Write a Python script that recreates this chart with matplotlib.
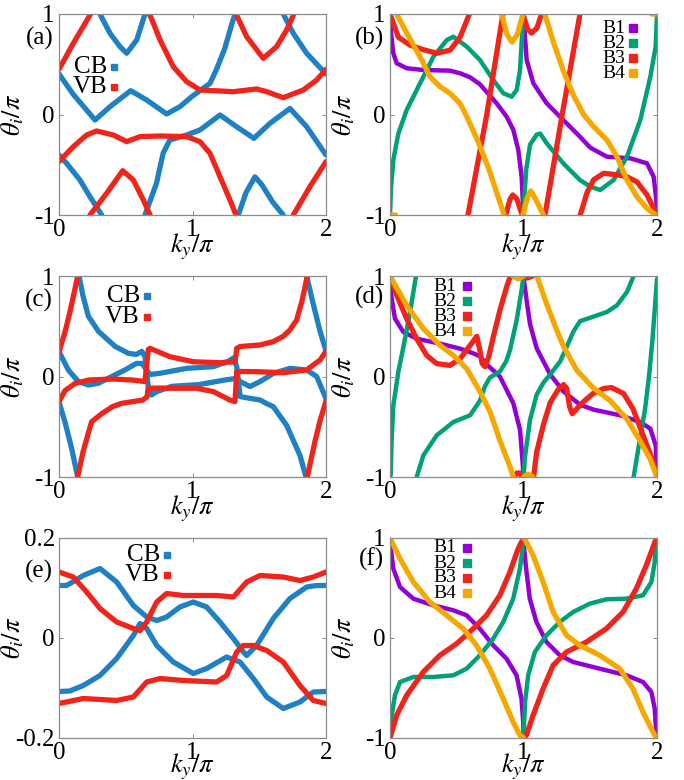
import numpy as np
import matplotlib
matplotlib.use("Agg")
import matplotlib.pyplot as plt

nan = np.nan

# ---- panel (a) ----
a_cb1_k = [0, 0.107, 0.27, 0.382, 0.537, 0.657, 0.806, 0.906, 0.994, 1.131, 1.18, 1.24, 1.29, 1.318, nan,
           1.343, 1.40, 1.468, 1.52, 1.60, 1.68, nan, 1.68, 1.755, 1.855, 2.0]
a_cb1_t = [0.403, 0.2, -0.055, 0.078, 0.237, 0.144, 0.005, 0.078, 0.177, 0.31, 0.45, 0.65, 0.88, 1.0, nan,
           -1.0, -0.78, -0.62, -0.70, -0.87, -1.0, nan, 1.0, 0.808, 0.609, 0.403]
a_cb2_k = [0, 0.057, 0.157, 0.232, 0.32, nan, 0.307, 0.382, 0.457, 0.507, 0.582, 0.644, nan,
           0.644, 0.73, 0.78, 0.83, 0.956, 1.056, 1.206, 1.33, 1.46, 1.58, 1.73, 1.855, 2.0]
a_cb2_t = [-0.403, -0.486, -0.652, -0.818, -1.0, nan, 1.0, 0.808, 0.675, 0.609, 0.741, 1.0, nan,
           -1.0, -0.685, -0.386, -0.254, -0.204, -0.154, -0.005, -0.121, -0.237, -0.088, 0.06, -0.121, -0.403]
a_vb1_k = [0, 0.107, 0.237, nan, 0.232, 0.357, 0.477, 0.557, 0.632, 0.682, nan,
           0.677, 0.70, 0.757, 0.856, 0.956, 1.056, 1.306, 1.48, 1.556, 1.68, 1.83, 1.93, 2.0]
a_vb1_t = [0.449, 0.708, 1.0, nan, -1.0, -0.784, -0.559, -0.652, -0.851, -1.0, nan,
           1.0, 0.93, 0.741, 0.476, 0.327, 0.244, 0.227, 0.254, 0.227, 0.167, 0.244, 0.343, 0.449]
a_vb2_k = [0, 0.107, 0.207, 0.282, 0.407, 0.507, 0.607, 0.757, 0.956, 1.056, 1.131, 1.206, 1.281, 1.326, nan,
           1.326, 1.406, 1.53, 1.63, 1.705, 1.76, nan, 1.755, 1.88, 2.0]
a_vb2_t = [-0.469, -0.32, -0.204, -0.164, -0.204, -0.27, -0.22, -0.214, -0.22, -0.27, -0.386, -0.619, -0.851, -1.0, nan,
           1.0, 0.774, 0.559, 0.675, 0.841, 1.0, nan, -1.0, -0.718, -0.469]

# ---- panel (b) ----
b_b1_k = [0, 0.008, 0.025, 0.05, 0.125, 0.25, 0.45, 0.525, 0.6, 0.674, 0.74, 0.799, 0.874, 0.924, 0.961, 0.986, 1.0, nan,
          1.0, 1.011, 1.024, 1.074, 1.174, 1.298, 1.423, 1.5, 1.625, 1.8, 1.925, 1.975, 1.995, 2.0]
b_b1_t = [1.0, 0.81, 0.61, 0.51, 0.46, 0.443, 0.436, 0.41, 0.37, 0.3, 0.2, 0.111, -0.022, -0.154, -0.353, -0.619, -1.0, nan,
          1.0, 0.774, 0.542, 0.31, 0.111, -0.055, -0.221, -0.33, -0.42, -0.436, -0.486, -0.62, -0.85, -1.0]
b_b2_k = [0, 0.008, 0.025, 0.0625, 0.125, 0.225, 0.325, 0.425, 0.475, 0.575, 0.674, 0.774, 0.849, 0.911, 0.949, 0.974,
          0.986, 0.998, nan, 1.0, 1.005, 1.02, 1.049, 1.099, 1.125, 1.174, 1.298, 1.423, 1.5, 1.575, 1.675, 1.775,
          1.875, 1.95, 1.99, 2.0]
b_b2_t = [-1.0, -0.72, -0.45, -0.19, 0.045, 0.31, 0.575, 0.741, 0.774, 0.675, 0.542, 0.343, 0.211, 0.177, 0.244, 0.443,
          0.71, 1.0, nan, -1.0, -0.85, -0.55, -0.3, -0.2, -0.19, -0.287, -0.486, -0.652, -0.718, -0.751, -0.652, -0.42,
          -0.055, 0.376, 0.675, 1.0]
b_b3_k = [0, 0.0625, 0.15, 0.25, 0.35, 0.45, 0.525, 0.595, nan, 0.584, 0.725, 0.846, nan,
          0.866, 0.90, 0.92, 0.95, 0.99, nan, 0.996, 1.03, 1.06, 1.1, 1.136, nan, 1.161, 1.29, 1.423, nan,
          1.425, 1.475, 1.525, 1.6, 1.7, 1.775, 1.85, 1.925, 2.0]
b_b3_t = [1.0, 0.77, 0.69, 0.645, 0.61, 0.64, 0.77, 1.0, nan, -1.0, 0.0, 1.0, nan,
          -1.0, -0.84, -0.80, -0.84, -1.0, nan, 1.0, 0.85, 0.81, 0.86, 1.0, nan, -1.0, 0.0, 1.0, nan,
          -1.0, -0.78, -0.65, -0.585, -0.6, -0.62, -0.67, -0.8, -1.0]
b_b4_k = [0, 0.04, nan, 0.05, 0.125, 0.225, 0.3, 0.375, 0.45, 0.525, 0.575, 0.66, 0.74, 0.79, 0.84, 0.855, nan,
          0.836, 0.875, 0.914, 0.955, 0.996, nan, 0.996, 1.03, 1.055, 1.09, 1.15, nan,
          1.16, 1.224, 1.3, 1.375, 1.45, 1.525, 1.625, 1.7, 1.775, 1.85, 1.925, 1.99, nan, 1.96, 2.0]
b_b4_t = [-1.0, -1.0, nan, 1.0, 0.81, 0.575, 0.376, 0.277, 0.21, 0.11, -0.02, -0.27, -0.54, -0.74, -0.94, -1.0, nan,
          1.0, 0.8, 0.72, 0.8, 1.0, nan, -1.0, -0.82, -0.76, -0.84, -1.0, nan,
          1.0, 0.72, 0.43, 0.19, 0.0, -0.12, -0.254, -0.42, -0.652, -0.818, -0.934, -1.0, nan, 1.0, 1.0]

# ---- panel (c) ----
c_cb1_k = [0, 0.07, 0.145, 0.22, 0.294, 0.395, 0.494, 0.58, 0.62, 0.65, 0.68, 0.757, 0.956, 1.156, 1.268, 1.306,
           1.331, 1.343, 1.356, 1.431, 1.506, 1.556, 1.605, 1.705, 1.805, 1.85, nan, 1.855, 1.905, 1.955, 2.0]
c_cb1_t = [0.247, 0.065, -0.05, -0.085, -0.068, 0.0, 0.065, 0.13, 0.13, 0.08, 0.02, 0.032, 0.081, 0.098, 0.151, 0.184,
           0.1, -0.032, -0.2, -0.217, -0.234, -0.27, -0.3, -0.486, -0.785, -1.0, nan, 1.0, 0.718, 0.453, 0.254]
c_cb2_k = [0, 0.045, 0.095, 0.14, nan, 0.15, 0.18, 0.22, 0.295, 0.42, 0.52, 0.58, 0.62, 0.644, 0.657, 0.669, 0.694,
           0.732, 0.844, 1.044, 1.243, 1.331, 1.356, 1.431, 1.506, 1.605, 1.73, 1.855, 1.93, 2.0]
c_cb2_t = [-0.254, -0.453, -0.718, -1.0, nan, 1.0, 0.8, 0.6, 0.45, 0.3, 0.23, 0.22, 0.25, 0.2, 0.03, -0.1, -0.184,
           -0.151, -0.098, -0.081, -0.035, -0.018, -0.05, -0.1, -0.05, 0.03, 0.081, 0.065, 0.0, -0.22]
c_vb1_k = [0, 0.045, 0.082, 0.12, 0.14, nan, 0.14, 0.18, 0.22, 0.245, 0.32, 0.4, 0.47, 0.63, 0.66, 0.667, 0.75,
           0.831, 1.03, 1.156, 1.28, 1.318, 1.325, 1.331, 1.356, 1.48, 1.68, 1.855, 1.955, 2.0]
c_vb1_t = [0.244, 0.443, 0.642, 0.874, 1.0, nan, -1.0, -0.75, -0.56, -0.45, -0.37, -0.3, -0.267, -0.234, -0.2, -0.117,
           -0.115, -0.117, -0.117, -0.15, -0.234, -0.25, -0.1, 0.048, 0.05, 0.048, 0.038, 0.065, 0.164, 0.25]
c_vb2_k = [0, 0.045, 0.12, 0.22, 0.4, 0.55, 0.644, 0.655, 0.669, 0.682, 0.831, 1.006, 1.206, 1.318, 1.325, 1.331,
           1.356, 1.506, 1.605, 1.68, 1.73, 1.78, 1.82, 1.86, nan, 1.86, 1.88, 1.918, 1.955, 2.0]
c_vb2_t = [-0.25, -0.14, -0.07, -0.035, -0.025, -0.035, -0.05, 0.1, 0.27, 0.28, 0.197, 0.147, 0.137, 0.147, 0.21, 0.28,
           0.298, 0.314, 0.347, 0.4, 0.463, 0.562, 0.75, 1.0, nan, -1.0, -0.874, -0.642, -0.443, -0.244]

# ---- panel (d) ----
d_b1_k = [0, 0.0125, 0.0375, 0.1, 0.2, 0.375, 0.525, 0.625, 0.674, 0.725, 0.824, 0.924, 0.974, 0.994, 1.0, nan,
          1.0, 1.005, 1.024, 1.049, 1.099, 1.2, 1.3, 1.423, 1.525, 1.725, 1.875, 1.95, 1.99, 2.0]
d_b1_t = [0.95, 0.775, 0.575, 0.443, 0.376, 0.327, 0.277, 0.23, 0.2, 0.12, -0.002, -0.267, -0.532, -0.864, -1.0, nan,
          1.0, 0.94, 0.75, 0.52, 0.28, 0.02, -0.15, -0.28, -0.33, -0.386, -0.453, -0.519, -0.685, -0.92]
d_b2_k = [0, 0.005, 0.0125, 0.025, 0.0625, 0.1125, 0.15, 0.195, nan, 0.2, 0.25, 0.35, 0.475, 0.6, 0.674, 0.71, 0.749,
          0.824, 0.87, 0.899, 0.949, 0.986, 1.0, nan, 1.0, 1.011, 1.049, 1.099, 1.15, 1.2, 1.275, 1.325, 1.375, 1.423,
          1.5, 1.625, 1.7, 1.775, 1.825, nan, 1.825, 1.875, 1.91, 1.94, 1.965, 1.985, 2.0]
d_b2_t = [-1.0, -0.98, -0.62, -0.287, 0.045, 0.376, 0.642, 1.0, nan, -1.0, -0.785, -0.585, -0.453, -0.386, -0.24, -0.1,
          -0.01, 0.05, 0.15, 0.264, 0.562, 0.86, 1.0, nan, -1.0, -0.8, -0.43, -0.18, -0.06, 0.02, 0.15, 0.3, 0.45, 0.55,
          0.585, 0.642, 0.708, 0.841, 1.0, nan, -1.0, -0.6, -0.33, 0.0, 0.35, 0.7, 0.97]
d_b3_k = [0.0, 0.01, 0.05, 0.125, 0.2, 0.275, 0.35, 0.45, 0.525, 0.6, 0.65, 0.675, 0.69, 0.712, 0.74, 0.774, 0.824,
          0.874, 0.9, 0.93, nan, 0.93, 0.95, 0.97, 0.99, nan, 0.99, 1.03, 1.07, nan, 1.075, 1.099, 1.149, 1.2, 1.26,
          1.3, 1.324, 1.345, 1.365, 1.4, 1.45, 1.52, 1.6, 1.66, 1.75, 1.82, 1.9, 1.97, 2.0]
d_b3_t = [1.0, 0.97, 0.81, 0.575, 0.376, 0.21, 0.128, 0.111, 0.177, 0.31, 0.40, 0.25, 0.13, 0.098, 0.2, 0.396, 0.662,
          0.894, 0.99, 1.0, nan, -1.0, -0.96, -0.96, -1.0, nan, 1.0, 0.98, 1.0, nan, -1.0, -0.75, -0.48, -0.26, -0.13,
          -0.08, -0.12, -0.3, -0.37, -0.32, -0.25, -0.17, -0.12, -0.11, -0.17, -0.32, -0.6, -0.84, -1.0]
d_b4_k = [0, 0.125, 0.25, 0.375, 0.475, 0.575, 0.674, 0.749, 0.824, 0.899, 0.924, nan, 0.92, 0.96, 1.0, nan,
          1.0, 1.035, 1.07, nan, 1.1, 1.174, 1.249, 1.3, 1.4, 1.52, 1.648, 1.773, 1.873, 1.948, 2.0]
d_b4_t = [1.0, 0.708, 0.476, 0.31, 0.21, 0.078, -0.15, -0.35, -0.64, -0.898, -1.0, nan, 1.0, 0.97, 1.0, nan,
          -1.0, -0.97, -1.0, nan, 1.0, 0.72, 0.46, 0.3, 0.06, -0.11, -0.24, -0.42, -0.64, -0.82, -1.0]

# ---- panel (e) ----
e_cb1_k = [0, 0.057, 0.182, 0.307, 0.432, 0.557, 0.657, 0.732, 0.806, 0.906, 1.006, 1.106, 1.206, 1.306, 1.381,
           1.406, 1.48, 1.605, 1.73, 1.855, 1.93, 2.0]
e_cb1_t = [0.105, 0.105, 0.125, 0.139, 0.112, 0.065, 0.042, 0.035, 0.042, 0.062, 0.072, 0.062, 0.032, -0.001, -0.028,
           -0.035, -0.015, 0.039, 0.079, 0.102, 0.105, 0.105]
e_cb2_k = [0, 0.08, 0.182, 0.307, 0.432, 0.557, 0.607, 0.657, 0.732, 0.856, 1.006, 1.106, 1.256, 1.356, 1.456, 1.556,
           1.68, 1.805, 1.905, 2.0]
e_cb2_t = [-0.107, -0.106, -0.095, -0.075, -0.041, 0.005, 0.029, 0.019, -0.015, -0.048, -0.071, -0.061, -0.038,
           -0.048, -0.081, -0.118, -0.141, -0.128, -0.108, -0.107]
e_vb1_k = [0, 0.107, 0.207, 0.307, 0.432, 0.557, 0.607, 0.657, 0.732, 0.806, 0.931, 1.181, 1.306, 1.406, 1.506, 1.68,
           1.805, 1.905, 2.0]
e_vb1_t = [0.132, 0.122, 0.092, 0.059, 0.032, 0.019, 0.015, 0.032, 0.072, 0.089, 0.085, 0.085, 0.082, 0.112, 0.125,
           0.122, 0.115, 0.122, 0.132]
e_vb2_k = [0, 0.182, 0.432, 0.557, 0.657, 0.757, 0.931, 1.181, 1.256, 1.331, 1.381, 1.456, 1.556, 1.68, 1.805, 1.905,
           2.0]
e_vb2_t = [-0.131, -0.121, -0.125, -0.118, -0.088, -0.081, -0.085, -0.088, -0.075, -0.028, -0.015, -0.015, -0.025,
           -0.048, -0.095, -0.125, -0.131]

# ---- panel (f) ----
f_b1_k = [0, 0.025, 0.075, 0.175, 0.324, 0.474, 0.574, 0.673, 0.773, 0.873, 0.948, 0.985, 0.998, 1.0, nan,
          1.0, 1.017, 1.047, 1.097, 1.172, 1.272, 1.372, 1.521, 1.671, 1.771, 1.895, 1.958, 1.983, 1.995]
f_b1_t = [0.96, 0.693, 0.51, 0.393, 0.327, 0.277, 0.227, 0.093, -0.073, -0.207, -0.373, -0.607, -0.84, -0.99, nan,
          0.96, 0.727, 0.393, 0.16, -0.04, -0.173, -0.24, -0.29, -0.34, -0.373, -0.44, -0.54, -0.707, -0.957]
f_b2_k = [0, 0.0125, 0.037, 0.075, 0.175, 0.324, 0.474, 0.574, 0.673, 0.773, 0.848, 0.923, 0.973, 0.993, 1.0, nan,
          1.0, 1.012, 1.035, 1.085, 1.172, 1.272, 1.372, 1.496, 1.621, 1.771, 1.895, 1.958, 1.983, 1.995]
f_b2_t = [-1.0, -0.773, -0.573, -0.44, -0.39, -0.39, -0.373, -0.307, -0.173, -0.007, 0.16, 0.393, 0.693, 0.893, 0.99,
          nan, -0.973, -0.64, -0.373, -0.14, 0.027, 0.16, 0.26, 0.343, 0.387, 0.393, 0.427, 0.56, 0.76, 0.993]
f_b3_k = [0, 0.05, 0.125, 0.249, 0.374, 0.499, 0.623, 0.723, 0.823, 0.898, 0.96, 1.0, nan,
          1.0, 1.022, 1.072, 1.147, 1.222, 1.322, 1.471, 1.621, 1.746, 1.845, 1.92, 1.995]
f_b3_t = [-1.0, -0.773, -0.573, -0.34, -0.173, -0.057, 0.093, 0.227, 0.427, 0.66, 0.893, 1.0, nan,
          -1.0, -0.973, -0.773, -0.507, -0.273, -0.14, -0.04, 0.093, 0.26, 0.493, 0.727, 1.0]
f_b4_k = [0, 0.075, 0.175, 0.299, 0.424, 0.549, 0.648, 0.748, 0.848, 0.923, 0.973, 1.0, nan,
          1.0, 1.01, 1.072, 1.147, 1.222, 1.322, 1.421, 1.571, 1.721, 1.82, 1.895, 1.97, 1.995]
f_b4_t = [1.0, 0.793, 0.56, 0.36, 0.227, 0.093, -0.073, -0.307, -0.607, -0.84, -0.973, -1.0, nan,
          1.0, 0.99, 0.827, 0.56, 0.26, 0.027, -0.073, -0.173, -0.307, -0.507, -0.74, -0.94, -1.0]

band_labels = ["B1", "B2", "B3", "B4"]
cbvb_labels = ["CB", "VB"]

BLUE = "#1f80c4"
RED = "#f0241a"
PURPLE = "#9400d3"
GREEN = "#00a078"
YELLOW = "#f5a800"

plt.rcParams["font.family"] = ["Liberation Serif", "DejaVu Serif"]
plt.rcParams["mathtext.fontset"] = "stix"
plt.rcParams["axes.unicode_minus"] = False


def style_axes(ax, lab, small=False, xlab_y=-0.085):
    ax.set_xlim(0, 2)
    if small:
        ax.set_ylim(-0.2, 0.2)
        ax.set_yticks([-0.2, 0, 0.2])
        ax.set_yticklabels(["-0.2", "0", "0.2"])
    else:
        ax.set_ylim(-1, 1)
        ax.set_yticks([-1, 0, 1])
        ax.set_yticklabels(["-1", "0", "1"])
    ax.set_xticks([0, 1, 2])
    ax.set_xticklabels(["0", "1", "2"])
    for s in ax.spines.values():
        s.set_color("#8c8c8c")
        s.set_linewidth(0.9)
    ax.tick_params(direction="in", length=3, width=0.7, color="#8c8c8c",
                   top=True, right=True, labelsize=18, pad=3)
    ax.set_xlabel(r"$k_y/\pi$", fontsize=19)
    ax.xaxis.set_label_coords(0.5, xlab_y)
    ax.set_ylabel(r"$\theta_i/\pi$", fontsize=19)
    ax.yaxis.set_label_coords(-0.125, 0.5)
    ax.text(-0.022, lab[1], lab[0], transform=ax.transAxes, ha="right", va="center", fontsize=18)


def add_key(ax, labels, colors, xt, xm, ys, fs, ms):
    for name, col, y in zip(labels, colors, ys):
        ax.text(xt, y, name, transform=ax.transAxes, ha="right", va="center", fontsize=fs)
        ax.plot([xm], [y], "s", color=col, ms=ms, transform=ax.transAxes, clip_on=False)


fig = plt.figure(figsize=(6.84, 7.8), dpi=100)
W, H = 267 / 684, 201 / 780
axa = fig.add_axes([59 / 684, 1 - 215 / 780, W, H])
axb = fig.add_axes([390 / 684, 1 - 215 / 780, W, H])
axc = fig.add_axes([59 / 684, 1 - 477 / 780, W, H])
axd = fig.add_axes([390 / 684, 1 - 477 / 780, W, H])
axe = fig.add_axes([59 / 684, 1 - 738 / 780, W, 200 / 780])
axf = fig.add_axes([390 / 684, 1 - 738 / 780, W, 200 / 780])

LW = 3.8
LWD = 3.2
kw = dict(solid_capstyle="round", solid_joinstyle="round")

# (a)
axa.plot(a_cb1_k, a_cb1_t, color=BLUE, lw=LW, **kw)
axa.plot(a_cb2_k, a_cb2_t, color=BLUE, lw=LW, **kw)
axa.plot(a_vb1_k, a_vb1_t, color=RED, lw=LW, **kw)
axa.plot(a_vb2_k, a_vb2_t, color=RED, lw=LW, **kw)
style_axes(axa, ("(a)", 0.88))
add_key(axa, cbvb_labels, [BLUE, RED], 0.18, 0.205, [0.736, 0.637], 18, 5)

# (c)
axc.plot(c_cb1_k, c_cb1_t, color=BLUE, lw=LW, **kw)
axc.plot(c_cb2_k, c_cb2_t, color=BLUE, lw=LW, **kw)
axc.plot(c_vb1_k, c_vb1_t, color=RED, lw=LW, **kw)
axc.plot(c_vb2_k, c_vb2_t, color=RED, lw=LW, **kw)
style_axes(axc, ("(c)", 0.88))
add_key(axc, cbvb_labels, [BLUE, RED], 0.303, 0.328, [0.9, 0.796], 18, 5)

# (e)
axe.plot(e_cb1_k, e_cb1_t, color=BLUE, lw=LW, **kw)
axe.plot(e_cb2_k, e_cb2_t, color=BLUE, lw=LW, **kw)
axe.plot(e_vb1_k, e_vb1_t, color=RED, lw=LW, **kw)
axe.plot(e_vb2_k, e_vb2_t, color=RED, lw=LW, **kw)
style_axes(axe, ("(e)", 0.835), small=True, xlab_y=-0.07)
add_key(axe, cbvb_labels, [BLUE, RED], 0.378, 0.404, [0.915, 0.815], 18, 5)

# (b), (d), (f)
for ax, data, lab, xt, xm, xly in [
    (axb, [(b_b1_k, b_b1_t), (b_b2_k, b_b2_t), (b_b3_k, b_b3_t), (b_b4_k, b_b4_t)], ("(b)", 0.88), 0.88, 0.91, -0.085),
    (axd, [(d_b1_k, d_b1_t), (d_b2_k, d_b2_t), (d_b3_k, d_b3_t), (d_b4_k, d_b4_t)], ("(d)", 0.895), 0.25, 0.29, -0.085),
    (axf, [(f_b1_k, f_b1_t), (f_b2_k, f_b2_t), (f_b3_k, f_b3_t), (f_b4_k, f_b4_t)], ("(f)", 0.895), 0.25, 0.29, -0.07),
]:
    cols = [PURPLE, GREEN, RED, YELLOW]
    widths = [LWD, LWD, LW, LW]
    for (k, t), c, w in zip(data, cols, widths):
        ax.plot(k, t, color=c, lw=w, **kw)
    style_axes(ax, lab, xlab_y=xly)
    ys = [0.93, 0.855, 0.78, 0.705] if ax is axb else [0.95, 0.875, 0.8, 0.725]
    add_key(ax, band_labels, cols, xt, xm, ys, 14, 6)

fig.savefig("out.png", dpi=100)
